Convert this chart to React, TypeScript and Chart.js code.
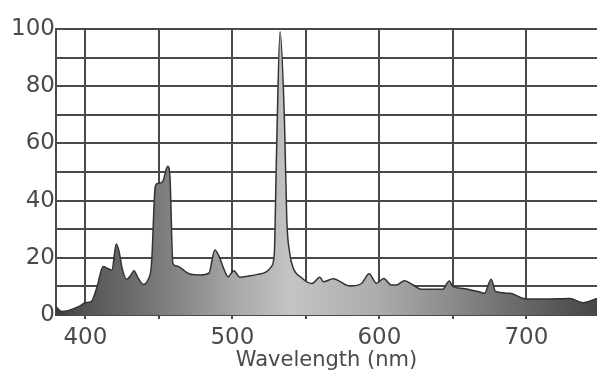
import React, { useEffect, useRef } from "react";
import { Chart, registerables } from "chart.js";

Chart.register(...registerables);

const wavelengths = [
  380, 384, 396, 400, 404, 408, 412, 415, 418, 421, 423, 425, 428, 431, 433, 436,
  439.5, 442.5, 445, 447.5, 449, 452.5, 456, 457.5, 459.5, 462, 471, 478, 484, 488,
  491, 494, 497, 501, 505, 512, 517, 523, 526.5, 528.5, 530, 532.4, 535.4, 537, 539,
  541, 547, 554, 559.5, 562, 568.5, 580, 588, 593, 598, 603, 608, 611.5, 617, 623,
  628.5, 643, 647.5, 650, 657, 667, 671.5, 676, 679, 688.5, 700, 713.5, 729.5, 738.5, 748,
];
const intensities = [
  2.9, 1.2, 3.1, 4.3, 4.7, 10, 17, 16.3, 15.7, 24.8, 22, 16.3, 12.5, 14, 15.5, 12.8,
  10.7, 12.2, 18, 44.9, 46, 46.6, 52, 48.4, 18, 17.1, 14.3, 14, 14.6, 22.7,
  20.4, 16.3, 13.4, 15.5, 13.2, 13.7, 14.2, 15.1, 16.9, 21.6, 56.5, 99, 68, 33.2, 21.6,
  16.9, 13, 11, 13.2, 11.6, 12.7, 10.1, 11.1, 14.4, 11.1, 12.8, 10.5, 10.5, 12, 10.5,
  9, 9, 11.9, 9.9, 9.3, 8.2, 7.6, 12.5, 8.2, 7.6, 5.6, 5.6, 5.8, 4.3, 5.8,
];
const xGridTicks = [400, 450, 500, 550, 600, 650, 700];
const xLabelTicks = [400, 500, 600, 700];
const yLabelTicks = [0, 20, 40, 60, 80, 100];
const gradientStops: [number, string][] = [
  [380, "#3c3c3c"],
  [400, "#555555"],
  [450, "#7a7a7a"],
  [500, "#a6a6a6"],
  [540, "#c4c4c4"],
  [600, "#ababab"],
  [650, "#8a8a8a"],
  [700, "#666666"],
  [748, "#464646"],
];

export default function App() {
  const ref = useRef<HTMLCanvasElement | null>(null);
  useEffect(() => {
    if (!ref.current) return;
    const gridColor = "#4a4a4a";
    const textColor = "#4a4a4a";
    const chart = new Chart(ref.current, {
      type: "line",
      data: {
        datasets: [
          {
            data: wavelengths.map((w, i) => ({ x: w, y: intensities[i] })),
            borderColor: "#333333",
            borderWidth: 1.5,
            pointRadius: 0,
            fill: "origin",
            cubicInterpolationMode: "monotone",
            backgroundColor: (ctx: any) => {
              const c = ctx.chart;
              const area = c.chartArea;
              if (!area) return "#888";
              const xs = c.scales.x;
              const x0 = xs.getPixelForValue(380);
              const x1 = xs.getPixelForValue(748);
              const g = c.ctx.createLinearGradient(x0, 0, x1, 0);
              gradientStops.forEach(([v, col]) => {
                const t = Math.min(1, Math.max(0, (xs.getPixelForValue(v) - x0) / (x1 - x0)));
                g.addColorStop(t, col);
              });
              return g;
            },
          },
        ],
      },
      options: {
        animation: false,
        responsive: false,
        parsing: true,
        layout: { padding: { top: 29, right: 0, left: 0, bottom: 0 } },
        plugins: { legend: { display: false }, tooltip: { enabled: false } },
        scales: {
          x: {
            type: "linear",
            min: 380,
            max: 748,
            afterBuildTicks: (scale: any) => {
              scale.ticks = xGridTicks.map((v) => ({ value: v }));
            },
            afterFit: (scale: any) => {
              scale.height = 56;
            },
            grid: { color: gridColor, lineWidth: 2, drawTicks: true, tickLength: 4 },
            border: { display: true, color: gridColor, width: 2 },
            ticks: {
              color: textColor,
              font: { family: "DejaVu Sans", size: 23 },
              padding: 5,
              maxRotation: 0,
              autoSkip: false,
              callback: (v: any) => (xLabelTicks.includes(Number(v)) ? String(v) : ""),
            },
            title: {
              display: true,
              text: "Wavelength (nm)",
              color: textColor,
              font: { family: "DejaVu Sans", size: 21, lineHeight: 1 },
              padding: { top: 0, bottom: 0 },
            },
          },
          y: {
            min: 0,
            max: 100,
            afterFit: (scale: any) => {
              scale.width = 56;
            },
            grid: { color: gridColor, lineWidth: 2, drawTicks: false },
            border: { display: true, color: gridColor, width: 2 },
            ticks: {
              stepSize: 10,
              color: textColor,
              font: { family: "DejaVu Sans", size: 23 },
              padding: 1,
              autoSkip: false,
              callback: (v: any) => (yLabelTicks.includes(Number(v)) ? String(v) : ""),
            },
          },
        },
      },
    } as any);
    return () => chart.destroy();
  }, []);
  return (
    <div style={{ position: "absolute", left: 0, top: 0, width: 597, height: 371, background: "#fff" }}>
      <canvas ref={ref} width={597} height={371} style={{ width: 597, height: 371, display: "block" }} />
    </div>
  );
}
